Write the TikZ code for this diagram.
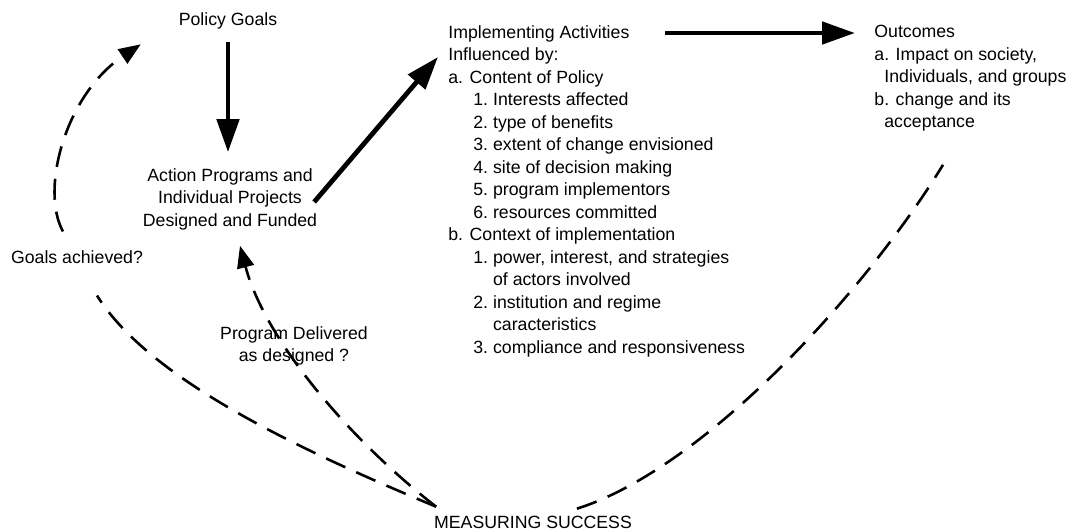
\documentclass[tikz,border=0pt]{standalone}
\usepackage{fontspec}
\setmainfont{Liberation Sans}
\usetikzlibrary{arrows.meta}
% numbered sub-item and its wrapped continuation
\newcommand{\numline}[2]{\hspace*{12.5pt}\makebox[9.85pt][l]{#1}#2}
\newcommand{\wrapline}[1]{\hspace*{22.35pt}#1}
\begin{document}
\begin{tikzpicture}[x=0.5pt, y=-0.5pt, font=\fontsize{8.85}{11.25}\selectfont,
    block/.style={inner sep=0pt, align=left, anchor=north west},
    flow/.style={line width=2.4pt, -{Triangle[length=16.5pt,width=11pt]}},
    check/.style={line width=1.3pt, dash pattern=on 10.5pt off 6pt},
    checkto/.style={check, -{Triangle[length=11pt,width=8.5pt]}}]
  \useasboundingbox (0,0) rectangle (1082,531);
  \node (goals) at (228,21) {Policy Goals};
  \node[align=center] (progs) at (230,199) {Action Programs and\\Individual Projects\\Designed and Funded};
  \node[block] (impl) at (448,25) {Implementing Activities\\
    Influenced by:\\
    a. Content of Policy\\
    \numline{1.}{Interests affected}\\
    \numline{2.}{type of benefits}\\
    \numline{3.}{extent of change envisioned}\\
    \numline{4.}{site of decision making}\\
    \numline{5.}{program implementors}\\
    \numline{6.}{resources committed}\\
    b. Context of implementation\\
    \numline{1.}{power, interest, and strategies}\\
    \wrapline{of actors involved}\\
    \numline{2.}{institution and regime}\\
    \wrapline{caracteristics}\\
    \numline{3.}{compliance and responsiveness}};
  \node[block] (outc) at (874,25) {Outcomes\\
    a. Impact on society,\\
    \hspace*{5pt}Individuals, and groups\\
    b. change and its\\
    \hspace*{5pt}acceptance};
  \node (meas) at (533,522) {MEASURING SUCCESS};
  \node (goalq) at (77,257) {Goals achieved?};

  % main flow
  \draw[flow, shorten <=3pt, shorten >=4.5pt] (goals.south) -- (goals.south |- progs.north);
  \draw[flow] ([shift={(-10,3)}]progs.east) -- ([shift={(-10,32)}]impl.north west);
  \draw[flow] ([shift={(217,8)}]impl.north west) -- ([shift={(-19,8)}]outc.north west);

  % feedback from measuring success
  \draw[check] ([shift={(9,-2)}]meas.north west) .. controls (300,450) and (150,380) .. ([shift={(20,25)}]goalq.south);
  \draw[checkto] ([shift={(-14,-12)}]goalq.north) .. controls (40,190) and (65,95) .. ([shift={(-31,8)}]goals.south west);
  \draw[checkto] ([shift={(9,-2)}]meas.north west) .. controls (350,440) and (265,340) .. ([shift={(10,9)}]progs.south);
  \node[align=center] (deliv) at (294,346) {Program Delivered\\as designed ?};
  \draw[check] ([shift={(-62,0)}]meas.north east) .. controls (700,470) and (860,300) .. ([shift={(69,33)}]outc.south west);
\end{tikzpicture}
\end{document}
